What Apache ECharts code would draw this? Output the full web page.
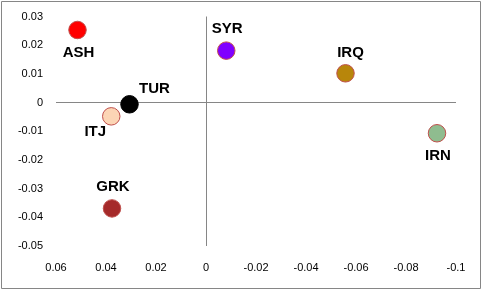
<!DOCTYPE html>
<html>
<head>
<meta charset="utf-8">
<script src="https://cdn.jsdelivr.net/npm/echarts@6/dist/echarts.min.js"></script>
<style>html,body{margin:0;padding:0;background:#fff}#c{width:483px;height:291px}</style>
</head>
<body>
<div id="c"></div>
<script>
var names = ['ASH', 'TUR', 'ITJ', 'GRK', 'SYR', 'IRQ', 'IRN'];
var xValues = [0.0514, 0.0306, 0.0379, 0.0376, -0.0081, -0.0558, -0.0924];
var yValues = [0.0253, -0.0006, -0.0048, -0.0369, 0.0181, 0.0102, -0.0107];
var fillColors = ['#FF0000', '#000000', '#FCD5B5', '#A52A2A', '#8000FF', '#B8860B', '#8FBC8F'];
var labelOffsets = {
  ASH: [1, 23], TUR: [25, -15], ITJ: [-16, 16], GRK: [1, -22],
  SYR: [1, -22], IRQ: [5, -20], IRN: [1, 23]
};

var data = names.map(function (n, i) {
  return {
    name: n,
    value: [xValues[i], yValues[i]],
    itemStyle: { color: fillColors[i], borderColor: i === 1 ? '#000000' : '#C0504D', borderWidth: 1, opacity: 1 },
    label: { offset: labelOffsets[n] }
  };
});

var chart = echarts.init(document.getElementById('c'), null, { renderer: 'canvas' });
chart.setOption({
  animation: false,
  backgroundColor: '#ffffff',
  grid: { left: 56, right: 27, top: 16.5, bottom: 45, containLabel: false },
  xAxis: {
    type: 'value', inverse: true, min: -0.1, max: 0.06, interval: 0.02,
    axisLine: { show: false }, axisTick: { show: false }, splitLine: { show: false },
    axisLabel: { color: '#000', fontFamily: 'Liberation Sans', fontSize: 11, margin: 16,
      formatter: function (v) { return String(Math.round(v * 100) / 100); } }
  },
  yAxis: {
    type: 'value', min: -0.05, max: 0.03, interval: 0.01,
    axisLine: { show: false }, axisTick: { show: false }, splitLine: { show: false },
    axisLabel: { color: '#000', fontFamily: 'Liberation Sans', fontSize: 11, margin: 13,
      formatter: function (v) { return String(Math.round(v * 100) / 100); } }
  },
  graphic: [{
    type: 'rect', shape: { x: 1.5, y: 1.5, width: 479, height: 287 },
    style: { fill: 'none', stroke: '#868686', lineWidth: 1 }, z: 100
  }],
  series: [{
    type: 'scatter',
    symbolSize: 17.5,
    data: data,
    label: {
      show: true, position: 'inside', formatter: '{b}',
      color: '#000', fontFamily: 'Liberation Sans', fontWeight: 'bold', fontSize: 15
    },
    markLine: {
      silent: true, symbol: ['none', 'none'], label: { show: false },
      lineStyle: { color: '#868686', width: 1, type: 'solid' },
      data: [{ xAxis: 0 }, { yAxis: 0 }],
      z: 1
    },
    z: 3
  }]
});
</script>
</body>
</html>
